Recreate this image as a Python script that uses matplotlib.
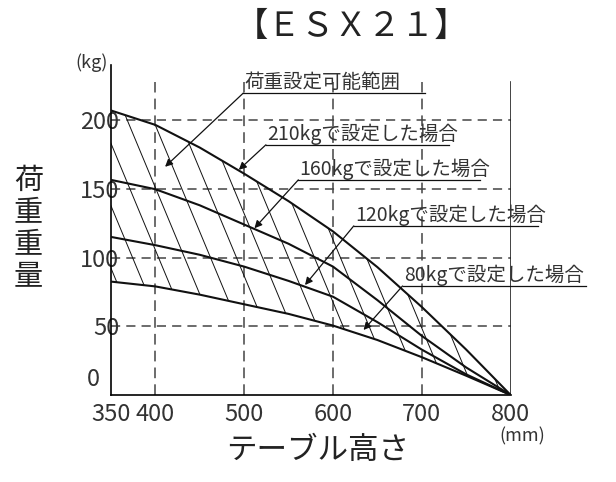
import numpy as np
import matplotlib
matplotlib.use("Agg")
import matplotlib.pyplot as plt
from matplotlib.collections import LineCollection

plt.rcParams['font.family'] = ['Noto Sans CJK JP', 'DejaVu Sans']

# テーブル高さ (mm)
height = [350, 400, 450, 500, 550, 600, 650, 700, 750, 800]
# 設定荷重ごとの荷重重量 (kg)
load_210 = [207, 196.5, 180, 161, 141, 119, 93, 64, 33, 0]
load_160 = [156.5, 149.7, 138, 124, 110, 93.4, 69, 43, 20, 0]
load_120 = [115, 109, 102, 93.4, 83, 71.5, 53, 33, 15, 0]
load_80 = [82.5, 79, 73, 66, 59, 50.5, 40, 27.5, 14, 0]

x_ticks = [350, 400, 500, 600, 700, 800]
y_ticks = [50, 100, 150, 200]

# 注記: 文字, 矢印の先, 下線の始点, 下線の終点x
notes = [
    ("荷重設定可能範囲", (411, 166), (499, 219.6), 703.6),
    ("210kgで設定した場合", (494, 163.8), (524.5, 182), 730.4),
    ("160kgで設定した場合", (511.6, 121.3), (561, 156.5), 766),
    ("120kgで設定した場合", (568.5, 80), (623.4, 123), 830.3),
    ("80kgで設定した場合", (634.4, 47.3), (678.3, 79.3), 885.3),
]

fig = plt.figure(figsize=(6.16, 4.82), dpi=100)
ax = fig.add_axes([0.180, 0.1805, 0.649, 0.6845])
ax.set_xlim(350, 800)
ax.set_ylim(0, 240)

# 破線グリッド
for yv in y_ticks:
    ax.plot([350, 800], [yv, yv], color='#444444', lw=1.1, dashes=(6, 4), zorder=1)
for xv in x_ticks[1:-1]:
    ax.plot([xv, xv], [0, 228], color='#444444', lw=1.1, dashes=(7, 4), zorder=1)
ax.plot([800, 800], [0, 228], color='#222222', lw=1.2, zorder=2)

# 斜線 (荷重設定可能範囲)
poly = ax.fill_between(height, load_80, load_210, facecolor='none', edgecolor='none')
slope = 2.4 * 399.7 / 329.8
step = 0.065
segs = [[(c, 1.0), (c + 1.0 / slope, 0.0)] for c in np.arange(-0.0814 - 6 * step, 1.05, step)]
hatch = LineCollection(segs, colors='#111111', linewidths=0.7, transform=ax.transAxes, zorder=2)
ax.add_collection(hatch)
hatch.set_clip_path(poly.get_paths()[0], poly.get_transform())

for ys in [load_210, load_160, load_120, load_80]:
    ax.plot(height, ys, color='#111111', lw=1.5, zorder=3)

# 注記
for label, tip, start, end_x in notes:
    ax.plot([start[0], end_x], [start[1], start[1]], color='#111111', lw=0.9, clip_on=False, zorder=4)
    ax.annotate("", xy=tip, xytext=start,
                arrowprops=dict(arrowstyle='-|>', color='#111111', lw=0.9,
                                mutation_scale=11, shrinkA=0, shrinkB=0), zorder=4)
    ax.annotate(label, xy=start, xytext=(1, 0), textcoords='offset points',
                ha='left', va='bottom', fontsize=14, color='#333333', zorder=4)

ax.spines['top'].set_visible(False)
ax.spines['right'].set_visible(False)
ax.spines['left'].set_linewidth(1.2)
ax.spines['bottom'].set_linewidth(1.2)
ax.set_xticks(x_ticks)
ax.set_yticks(y_ticks)
ax.tick_params(axis='both', length=0, labelsize=17, labelcolor='#333333')
ax.tick_params(axis='y', pad=-6)
ax.tick_params(axis='x', pad=6)
# 原点の「0」
ax.annotate("0", xy=(350, 0), xytext=(-8, 3), textcoords='offset points',
            ha='right', va='bottom', fontsize=17, color='#333333')

fig.text(0.570, 0.945, "【ＥＳＸ２１】", ha='center', va='center', fontsize=24, color='#222222')
fig.text(0.148, 0.870, "(kg)", ha='center', va='center', fontsize=13, color='#333333')
fig.text(0.848, 0.094, "(mm)", ha='center', va='center', fontsize=13, color='#333333')
fig.text(0.515, 0.066, "テーブル高さ", ha='center', va='center', fontsize=22, color='#222222')
fig.text(0.046, 0.525, "荷\n重\n重\n量", ha='center', va='center', fontsize=21,
         linespacing=1.1, color='#222222')

fig.savefig("out.png", dpi=100)
